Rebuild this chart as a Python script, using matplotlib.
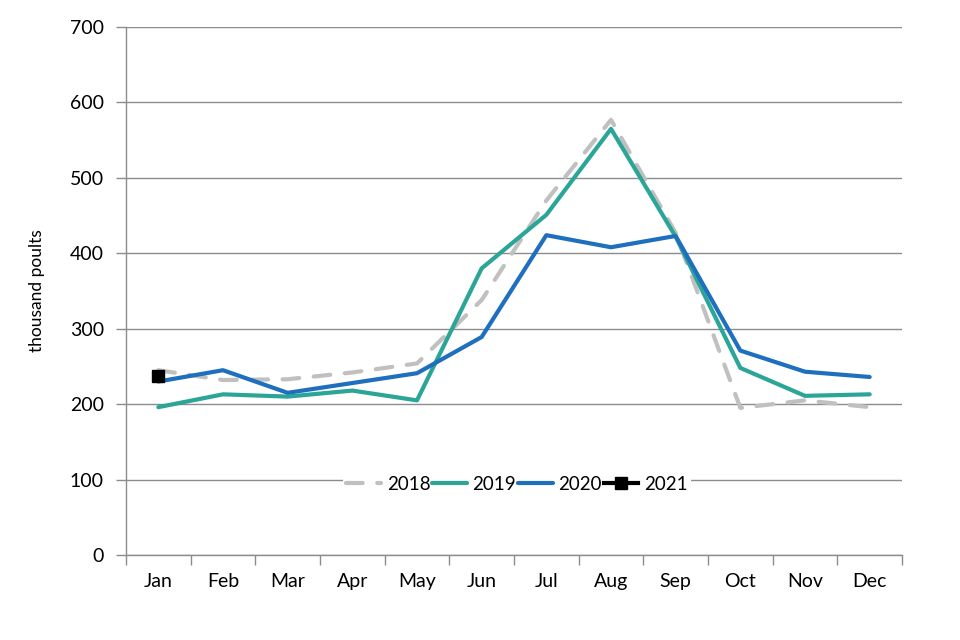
import matplotlib
matplotlib.use("Agg")
import matplotlib.pyplot as plt
import numpy as np

months = ["Jan", "Feb", "Mar", "Apr", "May", "Jun", "Jul", "Aug", "Sep", "Oct", "Nov", "Dec"]
v2018 = [245, 232, 233, 242, 254, 338, 470, 577, 427, 195, 205, 196]
v2019 = [196, 213, 210, 218, 205, 380, 451, 565, 422, 248, 211, 213]
v2020 = [230, 245, 215, 228, 241, 289, 424, 408, 423, 271, 243, 236]
v2021 = [237]
yticks = [0, 100, 200, 300, 400, 500, 600, 700]

plt.rcParams['font.family'] = ['Lato', 'DejaVu Sans']

fig = plt.figure(figsize=(9.6, 6.4), dpi=100)
ax = fig.add_axes([126/960, 1 - 555/640, (902-126)/960, (555-27)/640])

x = np.arange(len(months))
lw = 3.0
ax.plot(x, v2018, color='#c0c0c0', lw=lw, linestyle=(0, (4.0, 3.5)),
        dash_capstyle='round', label='2018', zorder=3)
ax.plot(x, v2019, color='#2aa597', lw=lw, label='2019', zorder=4, solid_capstyle='round')
ax.plot(x, v2020, color='#1f6fbf', lw=lw, label='2020', zorder=5, solid_capstyle='round')
ax.plot(x[:len(v2021)], v2021, color='black', lw=lw, marker='s', markersize=9,
        label='2021', zorder=6)

ax.set_xlim(-0.5, 11.5)
ax.set_ylim(0, 700)
ax.set_yticks(yticks)
ax.yaxis.grid(True, color='#8c8c8c', lw=1.0)
ax.set_axisbelow(True)

ax.set_xticks(x)
ax.set_xticklabels(months)
ax.set_xticks(np.arange(-0.5, 12, 1), minor=True)
ax.tick_params(axis='x', which='major', length=0, pad=13, labelsize=14)
ax.tick_params(axis='x', which='minor', length=7, color='#8c8c8c', width=1.0)
ax.tick_params(axis='y', length=7, color='#8c8c8c', width=1.0, pad=9, labelsize=14)

for s in ['top', 'right']:
    ax.spines[s].set_visible(False)
for s in ['left', 'bottom']:
    ax.spines[s].set_color('#8c8c8c')
    ax.spines[s].set_linewidth(1.0)

ax.set_ylabel('thousand poults', fontsize=12.5, labelpad=18)

leg = ax.legend(ncol=4, loc='center', bbox_to_anchor=((517-126)/776, (555-484)/528),
                frameon=True, facecolor='white', edgecolor='none', framealpha=1,
                fontsize=13.5, handlelength=1.85, handletextpad=0.3, columnspacing=0.1,
                borderpad=0.2, fancybox=False)

fig.savefig('out.png', dpi=100)
